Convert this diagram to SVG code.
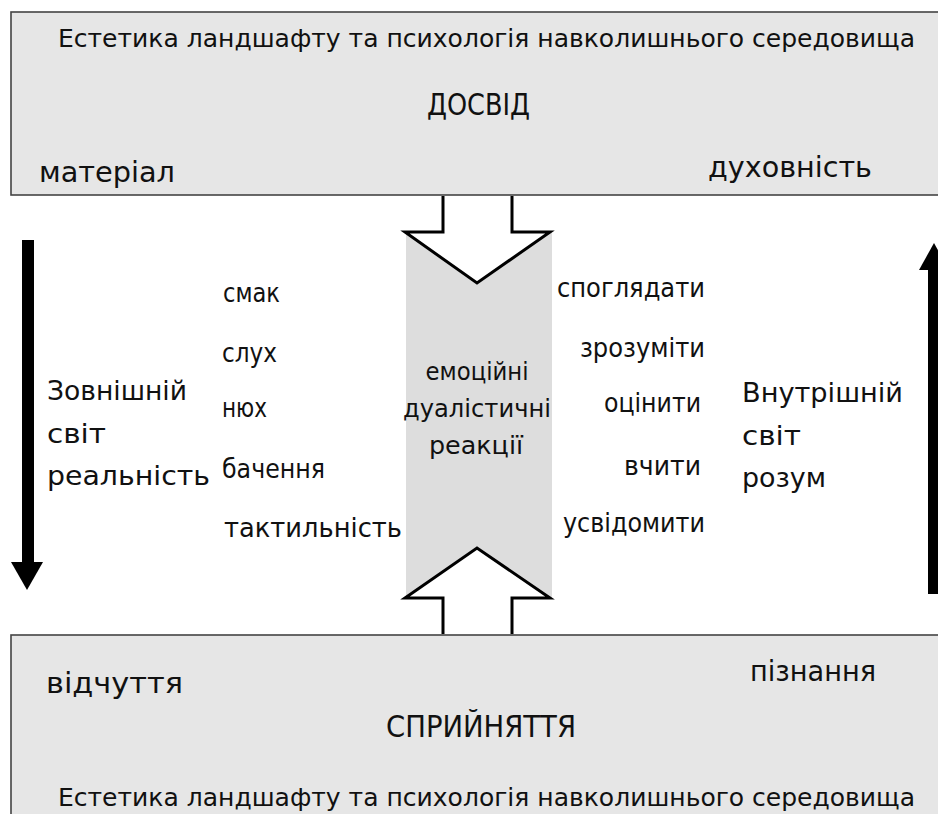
<svg xmlns="http://www.w3.org/2000/svg" width="938" height="814" viewBox="0 0 938 814">
<style>
text{font-family:"DejaVu Sans Condensed","DejaVu Sans",sans-serif;fill:#111}
.box{fill:#e6e6e6;stroke:#444;stroke-width:1.6}
.col{fill:#dddddd;stroke:none}
.hollow{fill:#fff;stroke:#000;stroke-width:3;stroke-linejoin:miter}
.solid{fill:#000;stroke:none}
.hdr{font-size:25px}
.big{font-size:31px}
.lab{font-size:29px}
.side{font-size:27px}
.mid{font-size:25px;text-anchor:middle}
</style>
<rect width="938" height="814" fill="#fff"/>
<g id="top-box">
<rect class="box" x="11" y="12" width="940" height="183"/>
<text class="hdr" x="58" y="47" textLength="857" lengthAdjust="spacingAndGlyphs">Естетика ландшафту та психологія навколишнього середовища</text>
<text class="big" x="427" y="115" textLength="103" lengthAdjust="spacingAndGlyphs">ДОСВІД</text>
<text class="lab" x="39" y="182" textLength="136" lengthAdjust="spacingAndGlyphs">матеріал</text>
<text class="lab" x="708" y="177" textLength="164" lengthAdjust="spacingAndGlyphs">духовність</text>
</g>
<g id="bottom-box">
<rect class="box" x="11" y="635" width="940" height="200"/>
<text class="lab" x="46" y="693" textLength="137" lengthAdjust="spacingAndGlyphs">відчуття</text>
<text class="lab" x="750" y="681" textLength="126" lengthAdjust="spacingAndGlyphs">пізнання</text>
<text class="big" x="386" y="737" textLength="190" lengthAdjust="spacingAndGlyphs">СПРИЙНЯТТЯ</text>
<text class="hdr" x="58" y="806" textLength="857" lengthAdjust="spacingAndGlyphs">Естетика ландшафту та психологія навколишнього середовища</text>
</g>
<g id="center-column">
<rect class="col" x="406" y="232" width="146" height="366"/>
</g>
<g id="connectors">
<path class="hollow" d="M443,196 L443,232 L405,232 L477,283 L550,232 L512,232 L512,196"/>
<path class="hollow" d="M443,634 L443,598 L405,598 L477,548 L550,598 L512,598 L512,634"/>
<rect class="solid" x="22" y="240" width="12" height="324"/>
<polygon class="solid" points="11,562 43,562 27,590"/>
<rect class="solid" x="928" y="268" width="12" height="326"/>
<polygon class="solid" points="919,270 949,270 934,243"/>
</g>
<g id="center-labels">
<text class="mid" x="477" y="380" textLength="103" lengthAdjust="spacingAndGlyphs">емоційні</text>
<text class="mid" x="477" y="417" textLength="148" lengthAdjust="spacingAndGlyphs">дуалістичні</text>
<text class="mid" x="476" y="454" textLength="94" lengthAdjust="spacingAndGlyphs">реакції</text>
</g>
<g id="left-world">
<text class="side" x="47" y="400" textLength="140" lengthAdjust="spacingAndGlyphs">Зовнішній</text>
<text class="side" x="47" y="443" textLength="59" lengthAdjust="spacingAndGlyphs">світ</text>
<text class="side" x="47" y="485" textLength="163" lengthAdjust="spacingAndGlyphs">реальність</text>
</g>
<g id="senses">
<text class="side" x="223" y="302" textLength="57" lengthAdjust="spacingAndGlyphs">смак</text>
<text class="side" x="222" y="362" textLength="55" lengthAdjust="spacingAndGlyphs">слух</text>
<text class="side" x="222" y="417" textLength="45" lengthAdjust="spacingAndGlyphs">нюх</text>
<text class="side" x="222" y="478" textLength="103" lengthAdjust="spacingAndGlyphs">бачення</text>
<text class="side" x="224" y="537" textLength="178" lengthAdjust="spacingAndGlyphs">тактильність</text>
</g>
<g id="actions">
<text class="side" x="557" y="297" textLength="148" lengthAdjust="spacingAndGlyphs">споглядати</text>
<text class="side" x="580" y="357" textLength="125" lengthAdjust="spacingAndGlyphs">зрозуміти</text>
<text class="side" x="604" y="412" textLength="97" lengthAdjust="spacingAndGlyphs">оцінити</text>
<text class="side" x="624" y="475" textLength="77" lengthAdjust="spacingAndGlyphs">вчити</text>
<text class="side" x="563" y="532" textLength="142" lengthAdjust="spacingAndGlyphs">усвідомити</text>
</g>
<g id="right-world">
<text class="side" x="742" y="402" textLength="161" lengthAdjust="spacingAndGlyphs">Внутрішній</text>
<text class="side" x="742" y="445" textLength="59" lengthAdjust="spacingAndGlyphs">світ</text>
<text class="side" x="742" y="487" textLength="84" lengthAdjust="spacingAndGlyphs">розум</text>
</g>
</svg>
